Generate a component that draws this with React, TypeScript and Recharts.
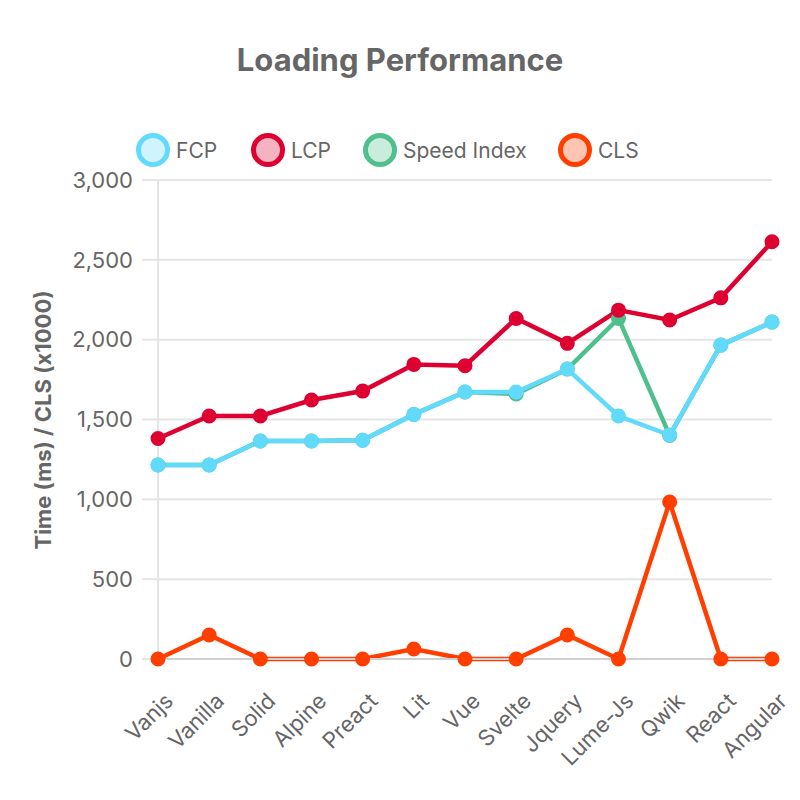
import React from "react";
import { LineChart, Line, XAxis, YAxis, CartesianGrid } from "recharts";

const frameworks = ["Vanjs", "Vanilla", "Solid", "Alpine", "Preact", "Lit", "Vue", "Svelte", "Jquery", "Lume-Js", "Qwik", "React", "Angular"];
const fcp = [1215, 1215, 1365, 1365, 1370, 1532, 1672, 1672, 1816, 1522, 1403, 1966, 2110];
const lcp = [1381, 1522, 1522, 1622, 1678, 1845, 1837, 2133, 1977, 2185, 2123, 2262, 2613];
const speedIndex = [1215, 1215, 1365, 1365, 1370, 1532, 1672, 1660, 1816, 2133, 1400, 1966, 2110];
const cls = [0, 150, 0, 0, 0, 63, 0, 0, 150, 0, 983, 0, 0];
const yTicks = [0, 500, 1000, 1500, 2000, 2500, 3000];

const data = frameworks.map((name, i) => ({
  name,
  fcp: fcp[i],
  lcp: lcp[i],
  si: speedIndex[i],
  cls: cls[i],
}));

const legendItems = [
  { label: "FCP", color: "#61dafb", fill: "#cff4fe", cx: 153 },
  { label: "LCP", color: "#dd0031", fill: "#f5b3c1", cx: 268 },
  { label: "Speed Index", color: "#4fc08d", fill: "#caecdc", cx: 380 },
  { label: "CLS", color: "#ff3e00", fill: "#ffc5b3", cx: 575 },
];

const font = "Inter, 'Noto Sans', sans-serif";

const XTick = (props: any) => {
  const { x, y, payload } = props;
  return (
    <g transform={`translate(${x + 11},${y + 22})`}>
      <text
        transform="rotate(-45)"
        textAnchor="end"
        dy="0.35em"
        fontSize={22}
        fill="#666"
        fontFamily={font}
      >
        {payload.value}
      </text>
    </g>
  );
};

const YLabel = () => (
  <text
    x={43}
    y={420}
    transform="rotate(-90, 43, 420)"
    textAnchor="middle"
    dominantBaseline="central"
    fontSize={22}
    fontWeight="bold"
    fill="#666"
    fontFamily={font}
  >
    Time (ms) / CLS (x1000)
  </text>
);

export default function App() {
  return (
    <div style={{ position: "absolute", left: 0, top: 0, width: 800, height: 800, background: "#fff" }}>
      <svg width={800} height={170} style={{ position: "absolute", left: 0, top: 0 }}>
        <text x={400} y={71} textAnchor="middle" fontSize={31} fontWeight="bold" fill="#666" fontFamily={font}>
          Loading Performance
        </text>
        {legendItems.map((it) => (
          <g key={it.label}>
            <circle cx={it.cx} cy={150} r={14.5} fill={it.fill} stroke={it.color} strokeWidth={5} />
            <text x={it.cx + 23} y={150} dominantBaseline="central" fontSize={21} fill="#666" fontFamily={font}>
              {it.label}
            </text>
          </g>
        ))}
      </svg>
      <div style={{ position: "absolute", left: 0, top: 0 }}>
        <LineChart width={800} height={800} data={data} margin={{ top: 180, right: 28, bottom: 0, left: 0 }}>
          <CartesianGrid vertical={false} stroke="#e5e5e5" strokeWidth={2} />
          <XAxis
            dataKey="name"
            tick={<XTick />}
            tickLine={false}
            axisLine={{ stroke: "#d0d0d0", strokeWidth: 2 }}
            interval={0}
            height={141}
            tickMargin={10}
          />
          <YAxis
            width={158}
            domain={[0, 3000]}
            ticks={yTicks}
            tickSize={16}
            tickMargin={9}
            tickLine={{ stroke: "#e5e5e5", strokeWidth: 2 }}
            axisLine={{ stroke: "#e5e5e5", strokeWidth: 2 }}
            tick={{ fontSize: 22, fill: "#666", fontFamily: font }}
            tickFormatter={(v: number) => v.toLocaleString("en-US")}
            label={<YLabel />}
          />
          <Line dataKey="cls" stroke="#ff3e00" strokeWidth={4.5} dot={{ r: 6.5, fill: "#ff3e00", stroke: "#ff3e00", strokeWidth: 2 }} isAnimationActive={false} />
          <Line dataKey="si" stroke="#4fc08d" strokeWidth={4.5} dot={{ r: 6.5, fill: "#4fc08d", stroke: "#4fc08d", strokeWidth: 2 }} isAnimationActive={false} />
          <Line dataKey="lcp" stroke="#dd0031" strokeWidth={4.5} dot={{ r: 6.5, fill: "#dd0031", stroke: "#dd0031", strokeWidth: 2 }} isAnimationActive={false} />
          <Line dataKey="fcp" stroke="#61dafb" strokeWidth={4.5} dot={{ r: 6.5, fill: "#61dafb", stroke: "#61dafb", strokeWidth: 2 }} isAnimationActive={false} />
        </LineChart>
      </div>
    </div>
  );
}
